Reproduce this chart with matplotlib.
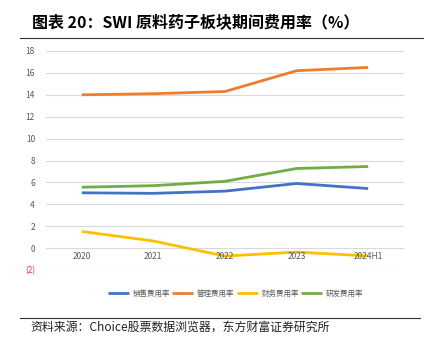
import matplotlib
matplotlib.use("Agg")
import matplotlib.pyplot as plt
from matplotlib.lines import Line2D

plt.rcParams['font.family'] = ['Noto Sans CJK SC', 'DejaVu Sans']

# 期间费用率数据（%）
years = ['2020', '2021', '2022', '2023', '2024H1']
sales_rate = [5.05, 5.0, 5.2, 5.9, 5.44]
admin_rate = [14.0, 14.1, 14.3, 16.2, 16.5]
finance_rate = [1.52, 0.65, -0.73, -0.36, -0.72]
rd_rate = [5.56, 5.7, 6.1, 7.27, 7.45]

series = [
    ('销售费用率', sales_rate, '#4472C4'),
    ('管理费用率', admin_rate, '#ED7D31'),
    ('财务费用率', finance_rate, '#FFC000'),
    ('研发费用率', rd_rate, '#70AD47'),
]
yticks = list(range(-2, 19, 2))

fig = plt.figure(figsize=(4.24, 3.48), dpi=100)

# 标题和上下分隔线
fig.text(32 / 424, 0.935, '图表 20：SWI 原料药子板块期间费用率（%）',
         fontsize=11.5, fontweight='bold', va='center', ha='left')
fig.add_artist(Line2D([20 / 424, 423 / 424], [1 - 38 / 348] * 2,
                      color='#333333', lw=0.8))
fig.add_artist(Line2D([20 / 424, 420 / 424], [1 - 318 / 348] * 2,
                      color='#333333', lw=0.8))
fig.text(30 / 424, 1 - 327 / 348, '资料来源：Choice股票数据浏览器，东方财富证券研究所',
         fontsize=8.6, va='center', ha='left', color='#222222')

ax = fig.add_axes([46 / 424, 78 / 348, 358 / 424, 219 / 348])
x = range(len(years))
for name, vals, c in series:
    ax.plot(x, vals, color=c, lw=2.0, solid_capstyle='butt', label=name, zorder=3)

ax.set_xlim(-0.5, len(years) - 0.5)
ax.set_ylim(-2, 18)
ax.set_yticks(yticks)
ax.set_yticklabels(['(2)' if t < 0 else str(t) for t in yticks], fontsize=6)
for lbl, t in zip(ax.get_yticklabels(), yticks):
    lbl.set_color('#FF3030' if t < 0 else '#595959')
ax.grid(axis='y', color='#D9D9D9', lw=0.8, zorder=0)
ax.tick_params(axis='both', length=0, pad=8)
ax.set_xticks([])
for s in ax.spines.values():
    s.set_visible(False)

# 类别标签放在0轴下方
for i, yr in enumerate(years):
    ax.text(i, -0.75, yr, ha='center', va='center', fontsize=6, color='#595959')

ax.legend(loc='upper center', bbox_to_anchor=(0.53, -0.06), ncol=4, frameon=False,
          fontsize=5.4, handlelength=2.8, handletextpad=0.5, columnspacing=0.3,
          labelcolor='#595959')

fig.savefig('out.png', dpi=100, facecolor='white')
